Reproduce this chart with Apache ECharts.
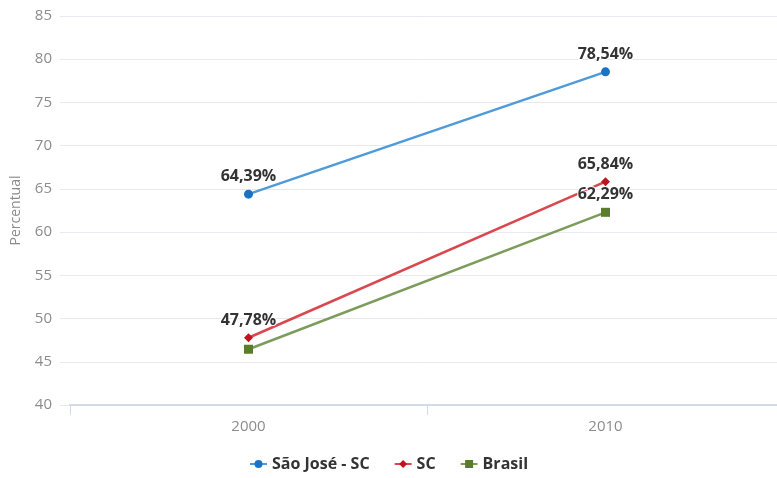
<!DOCTYPE html>
<html>
<head>
<meta charset="utf-8">
<script src="https://cdn.jsdelivr.net/npm/echarts@6/dist/echarts.min.js"></script>
<style>
  html, body { margin: 0; padding: 0; background: #fff; }
  #chart { width: 777px; height: 478px; }
</style>
</head>
<body>
<div id="chart"></div>
<script>
// Categories and series values
const years = ['2000', '2010'];
const saoJose = [64.39, 78.54];
const sc = [47.78, 65.84];
const brasil = [46.45, 62.29];
// Which points carry a value label
const brasilLabels = [false, true];

const FONT = '"Open Sans", "DejaVu Sans", sans-serif';
const fmt = v => v.toFixed(2).replace('.', ',') + '%';

const labelStyle = {
  show: true,
  position: 'top',
  distance: 5,
  fontFamily: FONT,
  fontWeight: 'bold',
  fontSize: 16,
  color: '#333',
  textBorderColor: '#fff',
  textBorderWidth: 2,
  formatter: p => fmt(p.value)
};

function series(name, data, lineColor, markColor, symbol, size, showFlags) {
  return {
    name: name,
    type: 'line',
    xAxisIndex: 1,
    yAxisIndex: 1,
    data: data.map((v, i) => ({
      value: v,
      label: showFlags ? { show: showFlags[i] } : undefined
    })),
    symbol: symbol,
    symbolSize: size,
    lineStyle: { color: lineColor, width: 2.5 },
    itemStyle: { color: markColor },
    label: labelStyle,
    emphasis: { disabled: true },
    z: 3
  };
}

const chart = echarts.init(document.getElementById('chart'), null, { renderer: 'canvas' });
chart.setOption({
  animation: false,
  grid: [
    { left: 60, right: 0, top: 16, bottom: 73, outerBoundsMode: 'none' },
    // the plotting grid runs slightly past the right edge of the canvas
    { left: 70, width: 714, top: 16, bottom: 73, outerBoundsMode: 'none' }
  ],
  xAxis: [
    { type: 'category', gridIndex: 0, data: years, show: false },
    {
      type: 'category', gridIndex: 1, data: years,
      boundaryGap: true,
      axisLine: { lineStyle: { color: '#d3dbe8', width: 2 } },
      axisTick: { show: true, length: 10, lineStyle: { color: '#d3dbe8', width: 1 } },
      axisLabel: { color: '#8c8c8c', fontFamily: FONT, fontSize: 15, margin: 14 },
      splitLine: { show: false }
    }
  ],
  yAxis: [
    {
      type: 'value', gridIndex: 0, min: 40, max: 85, interval: 5,
      name: 'Percentual', nameLocation: 'middle', nameGap: 37, nameRotate: 90,
      nameTextStyle: { color: '#8c8c8c', fontFamily: FONT, fontSize: 14 },
      axisLine: { show: false }, axisTick: { show: false },
      axisLabel: { color: '#8c8c8c', fontFamily: FONT, fontSize: 15, margin: 8 },
      splitLine: { lineStyle: { color: '#e8e8ee', width: 1 } }
    },
    { type: 'value', gridIndex: 1, min: 40, max: 85, interval: 5, show: false, splitLine: { show: false } }
  ],
  legend: {
    bottom: 1,
    left: 'center',
    itemGap: 24,
    itemWidth: 17,
    itemHeight: 10,
    textStyle: { color: '#333', fontFamily: FONT, fontWeight: 'bold', fontSize: 16 },
    data: ['São José - SC', 'SC', 'Brasil']
  },
  series: [
    series('São José - SC', saoJose, '#4f9ad8', '#1a72c4', 'circle', 9),
    series('SC', sc, '#d9474f', '#c0141c', 'diamond', 9),
    series('Brasil', brasil, '#7d9c5c', '#5a7d2c', 'rect', 9, brasilLabels)
  ]
});
</script>
</body>
</html>
